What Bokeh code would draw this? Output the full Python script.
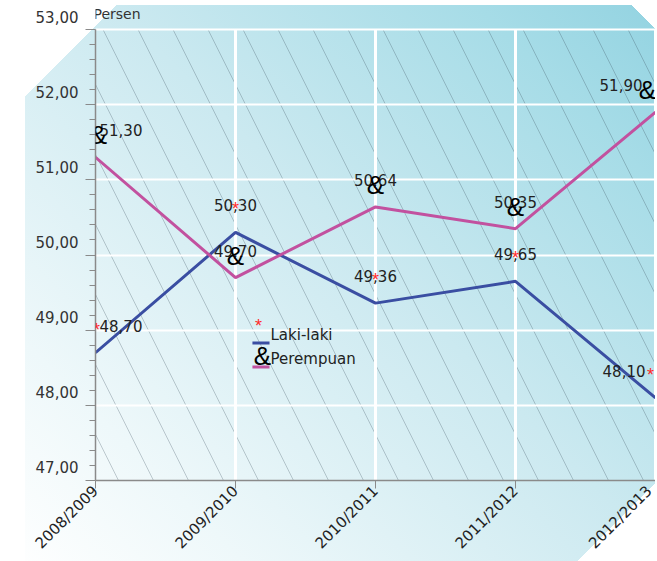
import math
from bokeh.plotting import figure
from bokeh.models import (Range1d, LinearAxis, FixedTicker, CustomJSTickFormatter,
                          ColumnDataSource, LabelSet, Label, BoxAnnotation)
from bokeh.core.properties import value, field
from bokeh.embed import file_html
from bokeh.resources import INLINE

# ---------------- data ----------------
years = ["2008/2009", "2009/2010", "2010/2011", "2011/2012", "2012/2013"]
laki = [48.70, 50.30, 49.36, 49.65, 48.10]
perempuan = [51.30, 49.70, 50.64, 50.35, 51.90]
series_names = ["Laki-laki", "Perempuan"]
y_ticks = [47, 48, 49, 50, 51, 52, 53]
y_title = "Persen"

# ---------------- style ----------------
BLUE = "#3a4ea2"
PINK = "#c2519f"
FONT = "DejaVu Sans"
SYM_FONT = "Liberation Sans"
TXT = "#222222"
AX = "#8a8a8a"

xs = list(range(len(years)))
n = len(years)
y_lo, y_hi = y_ticks[0], y_ticks[-1]
top_pad = 0.386      # room above the plotting area for the top label / title
shift = 0.173        # tick labels sit a little above their ticks, as in the original


def fmt(v):
    return f"{v:.2f}".replace(".", ",")


p = figure(width=655, height=561,
           x_range=Range1d(0, n - 1), y_range=Range1d(y_lo, y_hi + top_pad),
           output_backend="svg", toolbar_location=None,
           min_border_left=95, min_border_right=0, min_border_top=0, min_border_bottom=0)
p.background_fill_color = None
p.border_fill_color = None
p.outline_line_color = None

p.styles = {
    "background-image": (
        "linear-gradient(135deg, #ffffff 86px, rgba(255,255,255,0) 86px),"
        "linear-gradient(225deg, #ffffff 20px, rgba(255,255,255,0) 20px),"
        "linear-gradient(315deg, #ffffff 55px, rgba(255,255,255,0) 55px),"
        "linear-gradient(90deg, #ffffff 25px, rgba(255,255,255,0) 25px),"
        "linear-gradient(180deg, #ffffff 5px, rgba(255,255,255,0) 5px),"
        "linear-gradient(45deg, #ffffff 0%, #eef8fa 20%, #cbe9f0 55%, #a6dce7 85%, #93d3e1 100%)"
    )
}

# hatch over the plotting area
p.add_layout(BoxAnnotation(left=0, right=n - 1, bottom=y_lo, top=y_hi,
                           fill_alpha=0, line_color=None, hatch_pattern="\\",
                           hatch_color="#334455", hatch_alpha=0.5, hatch_weight=0.55,
                           hatch_scale=70, level="image"))

# x axis
xa = p.xaxis[0]
xa.ticker = FixedTicker(ticks=xs)
xa.major_label_overrides = {i: years[i] for i in xs}
xa.major_label_orientation = math.pi / 4
xa.major_label_text_font = FONT
xa.major_label_text_font_size = "15px"
xa.major_label_text_color = TXT
xa.major_label_standoff = 0
xa.axis_line_color = AX
xa.axis_line_width = 1.5
xa.major_tick_line_color = AX
xa.major_tick_out = 8
xa.major_tick_in = 0
xa.minor_tick_line_color = None

# y axis: line and ticks
minor = [round(y_lo + 0.2 * k, 1) for k in range(1, 30) if k % 5]
ya = p.yaxis[0]
ya.ticker = FixedTicker(ticks=y_ticks, minor_ticks=minor)
ya.formatter = CustomJSTickFormatter(code="return ''")
ya.bounds = (y_lo, y_hi)
ya.major_label_standoff = 0
ya.axis_line_color = AX
ya.axis_line_width = 1.5
ya.major_tick_line_color = AX
ya.minor_tick_line_color = AX
ya.major_tick_out = 10
ya.major_tick_in = 0
ya.minor_tick_out = 6
ya.minor_tick_in = 0

# y axis: tick labels
p.extra_y_ranges = {"lab": Range1d(y_lo - shift, y_hi + top_pad - shift)}
la = LinearAxis(y_range_name="lab", ticker=FixedTicker(ticks=y_ticks),
                formatter=CustomJSTickFormatter(code="return tick.toFixed(2).replace('.', ',')"),
                major_tick_out=0, major_tick_in=0, minor_tick_out=0, minor_tick_in=0,
                axis_line_color=None, major_tick_line_color=None, minor_tick_line_color=None,
                major_label_standoff=7, major_label_text_font=FONT,
                major_label_text_font_size="15px", major_label_text_color="#333333")
p.add_layout(la, "left")

# axis title
p.add_layout(Label(x=0, y=y_hi, x_offset=-2, y_offset=16, text=y_title,
                   text_align="left", text_baseline="alphabetic", text_font=FONT,
                   text_font_size="14px", text_color="#333333"))

# grid
p.xgrid.visible = False
p.segment(x0=xs[1:], y0=[y_lo] * (n - 1), x1=xs[1:], y1=[y_hi] * (n - 1),
          line_color="white", line_width=3, level="underlay")
p.ygrid.ticker = FixedTicker(ticks=y_ticks[1:])
p.ygrid.grid_line_color = "white"
p.ygrid.grid_line_width = 2

# lines
src_l = ColumnDataSource(dict(x=xs, y=laki, txt=[fmt(v) for v in laki]))
src_p = ColumnDataSource(dict(x=xs, y=perempuan, txt=[fmt(v) for v in perempuan]))
for s in (src_l, src_p):
    s.data["align"] = ["left"] + ["center"] * (n - 2) + ["right"]
src_l.data["dx"] = [4] + [0] * (n - 2) + [-10]
src_p.data["dx"] = [4] + [0] * (n - 2) + [-13]
src_l.data["mdx"] = [1] + [0] * (n - 2) + [-5]
src_p.data["mdx"] = [3] + [0] * (n - 2) + [-8]

p.line("x", "y", source=src_l, line_color=BLUE, line_width=3)
p.line("x", "y", source=src_p, line_color=PINK, line_width=3)

# value labels
for s in (src_l, src_p):
    p.add_layout(LabelSet(x="x", y="y", text="txt", source=s, text_align=field("align"),
                          x_offset=field("dx"), y_offset=21, text_baseline="alphabetic",
                          text_font=value(FONT), text_font_size="15px", text_color=TXT))
# markers (symbol characters)
p.add_layout(LabelSet(x="x", y="y", text=value("*"), source=src_l, text_align="center",
                      x_offset=field("mdx"), y_offset=17, text_baseline="alphabetic",
                      text_font=value(SYM_FONT), text_font_size="18px", text_color="#ff2a2a"))
p.add_layout(LabelSet(x="x", y="y", text=value("&"), source=src_p, text_align="center",
                      x_offset=field("mdx"), y_offset=13, text_baseline="alphabetic",
                      text_font=value(SYM_FONT), text_font_size="26px", text_color="#000000"))

# legend (drawn as in the original)
lx0, lx1, ltx = 1.121, 1.243, 1.25
p.add_layout(Label(x=1.164, y=49.05, text="*", text_align="center", text_baseline="alphabetic",
                   text_font=SYM_FONT, text_font_size="18px", text_color="#ff2a2a"))
p.add_layout(Label(x=ltx, y=48.93, text=series_names[0], text_align="left",
                   text_baseline="alphabetic", text_font=FONT, text_font_size="15px",
                   text_color=TXT))
p.add_layout(BoxAnnotation(left=lx0, right=lx1, bottom=48.81, top=48.85,
                           fill_color=BLUE, fill_alpha=1, line_color=None))
p.add_layout(Label(x=1.193, y=48.65, text="&", text_align="center", text_baseline="alphabetic",
                   text_font=SYM_FONT, text_font_size="26px", text_color="#000000"))
p.add_layout(Label(x=ltx, y=48.61, text=series_names[1], text_align="left",
                   text_baseline="alphabetic", text_font=FONT, text_font_size="15px",
                   text_color=TXT))
p.add_layout(BoxAnnotation(left=lx0, right=lx1, bottom=48.49, top=48.53,
                           fill_color=PINK, fill_alpha=1, line_color=None))

open("out.html", "w").write(file_html(p, INLINE))
